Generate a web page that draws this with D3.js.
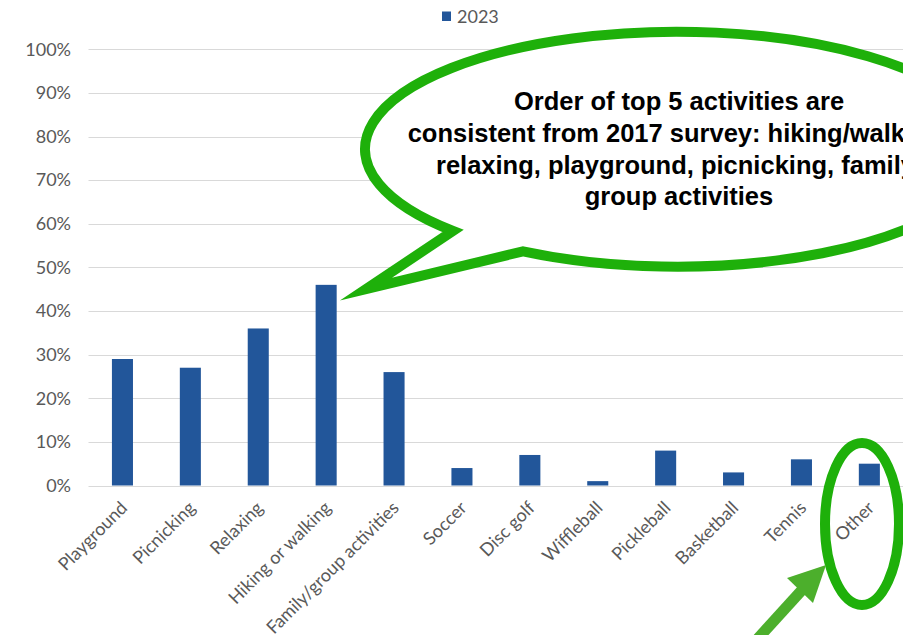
<!DOCTYPE html>
<html>
<head>
<meta charset="utf-8">
<script src="https://cdn.jsdelivr.net/npm/d3@7"></script>
<style>
  html, body { margin: 0; padding: 0; background: #fff; }
  svg { display: block; }
</style>
</head>
<body>
<svg id="chart" width="903" height="635"></svg>
<script>
const categories = ["Playground", "Picnicking", "Relaxing", "Hiking or walking", "Family/group activities",
  "Soccer", "Disc golf", "Wiffleball", "Pickleball", "Basketball", "Tennis", "Other"];
const values2023 = [0.29, 0.27, 0.36, 0.46, 0.26, 0.04, 0.07, 0.01, 0.08, 0.03, 0.06, 0.05];
const yTicks = [0, 0.1, 0.2, 0.3, 0.4, 0.5, 0.6, 0.7, 0.8, 0.9, 1.0];
const seriesName = "2023";
const calloutLines = [
  "Order of top 5 activities are",
  "consistent from 2017 survey: hiking/walking,",
  "relaxing, playground, picnicking, family/",
  "group activities"
];

(function () {
const svg = d3.select("#chart");
const W = 903, H = 635;
const pLeft = 88.5, pRight = 903.3, pTop = 49.3, pBottom = 485.5;

const x = d3.scaleBand().domain(categories).range([pLeft, pRight]).paddingInner(0.69).paddingOuter(0.345);
const y = d3.scaleLinear().domain([0, 1]).range([pBottom, pTop]);

const barColor = "#22569a";
const labelColor = "#595959";
const font = "Lato, 'Open Sans', sans-serif";
const fs = "18px";

// gridlines
svg.append("g").selectAll("line").data(yTicks).join("line")
  .attr("x1", pLeft).attr("x2", W)
  .attr("y1", d => Math.round(y(d)) + 0.5).attr("y2", d => Math.round(y(d)) + 0.5)
  .attr("stroke", "#d9d9d9").attr("stroke-width", 1);

// y axis labels
const yAxis = d3.axisLeft(y).tickValues(yTicks).tickFormat(d3.format(".0%")).tickSize(0).tickPadding(0);
const ya = svg.append("g").attr("transform", `translate(71,0)`).call(yAxis);
ya.select(".domain").remove();
ya.selectAll("text").attr("fill", labelColor).style("font-family", font).style("font-size", fs);

// bars
svg.append("g").selectAll("rect").data(values2023).join("rect")
  .attr("x", (d, i) => x(categories[i]))
  .attr("width", x.bandwidth())
  .attr("y", d => y(d))
  .attr("height", d => y(0) - y(d))
  .attr("fill", barColor);

// x labels
svg.append("g").selectAll("text").data(categories).join("text")
  .attr("transform", d => `translate(${x(d) + x.bandwidth() / 2 + 6},${509}) rotate(-45)`)
  .attr("text-anchor", "end")
  .attr("fill", labelColor)
  .style("font-family", font).style("font-size", fs)
  .text(d => d);

// legend
const lg = svg.append("g");
lg.append("rect").attr("x", 442).attr("y", 11.5).attr("width", 9).attr("height", 9.5).attr("fill", barColor);
lg.append("text").attr("x", 457).attr("y", 23).attr("fill", labelColor)
  .style("font-family", font).style("font-size", fs).text(seriesName);

// speech bubble callout
const cx = 677, cy = 149.2, rx = 312, ry = 117.5;
const green = "#1eb00a";
function pt(xx) {
  const dy = ry * Math.sqrt(1 - Math.pow((xx - cx) / rx, 2));
  return [xx, cy + dy];
}
const A = pt(453), B = pt(523);
const tip = [366, 289];
const bubble = `M${B[0]},${B[1]} A${rx},${ry} 0 1 0 ${A[0]},${A[1]} L${tip[0]},${tip[1]} Z`;
svg.append("path").attr("d", bubble).attr("fill", "#fff").attr("stroke", green)
  .attr("stroke-width", 10).attr("stroke-linejoin", "miter").attr("stroke-miterlimit", 10);

const tg = svg.append("g").style("font-family", "'Liberation Sans', Arial, sans-serif")
  .style("font-size", "25.5px").style("font-weight", "bold").attr("fill", "#000");
const baselines = [110, 142, 173.5, 205];
calloutLines.forEach((t, i) => {
  tg.append("text").attr("x", 679).attr("y", baselines[i])
    .attr("text-anchor", "middle").text(t);
});

// green oval around "Other"
svg.append("ellipse").attr("cx", 862).attr("cy", 524).attr("rx", 37).attr("ry", 81)
  .attr("fill", "none").attr("stroke", green).attr("stroke-width", 10);

// arrow pointing to oval
const arrowGreen = "#4caf2c";
svg.append("line").attr("x1", 752).attr("y1", 645).attr("x2", 802).attr("y2", 590)
  .attr("stroke", arrowGreen).attr("stroke-width", 11);
svg.append("path").attr("d", "M826,565 L787,578 L813,603 Z").attr("fill", arrowGreen);
})();
</script>
</body>
</html>
